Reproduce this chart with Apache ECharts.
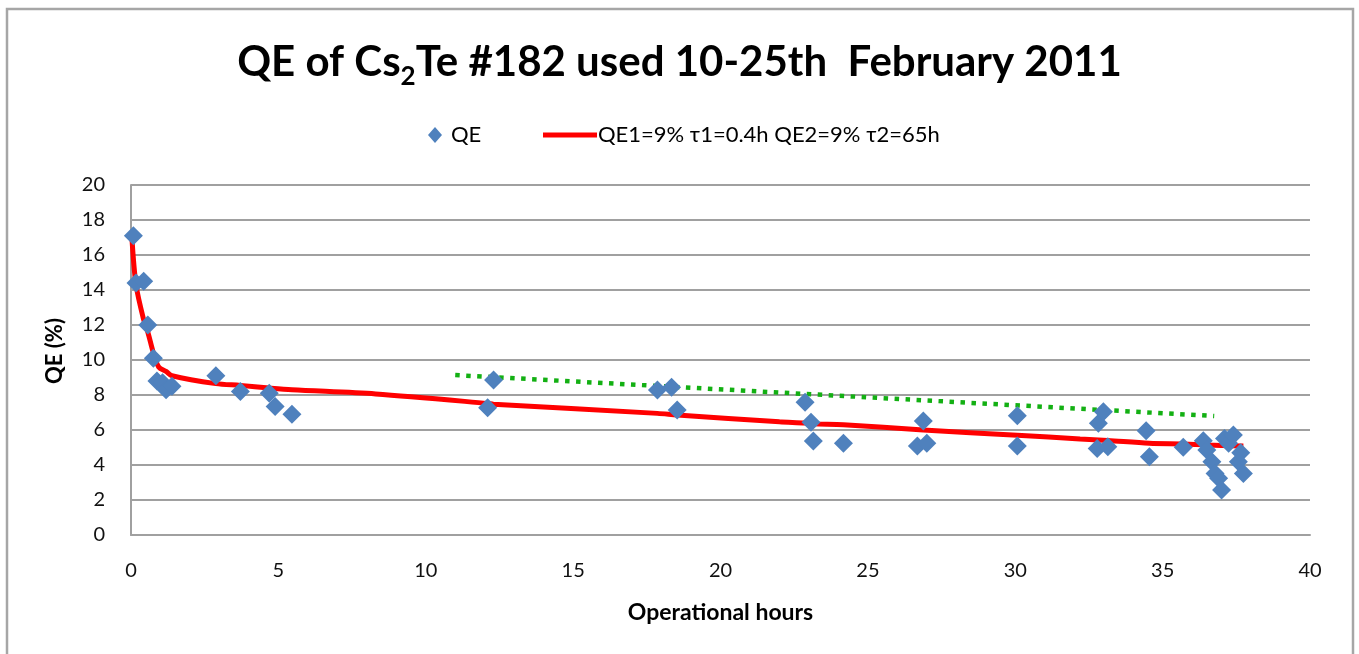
<!DOCTYPE html>
<html>
<head>
<meta charset="utf-8">
<script src="https://cdn.jsdelivr.net/npm/echarts@6/dist/echarts.min.js"></script>
<style>
  html, body { margin: 0; padding: 0; background: #fff; }
  #chart { width: 1359px; height: 654px; }
</style>
</head>
<body>
<div id="chart"></div>
<script>
// measured QE points (hours, %)
var qeHours = [0.08, 0.17, 0.43, 0.57, 0.76, 0.88, 1.07, 1.19, 1.39, 2.88, 3.71, 4.69, 4.89, 5.46,
    12.1, 12.3, 17.86, 18.34, 18.53, 22.87, 23.07, 23.15, 24.17, 26.68, 26.88, 27.0, 30.07, 30.07,
    32.78, 32.82, 32.99, 33.14, 34.44, 34.55, 35.7, 36.38, 36.5, 36.67, 36.78, 36.9, 37.0, 37.1,
    37.24, 37.4, 37.57, 37.65, 37.74];
var qeValues = [17.1, 14.4, 14.5, 12.0, 10.1, 8.8, 8.7, 8.3, 8.5, 9.1, 8.2, 8.1, 7.35, 6.9,
    7.27, 8.86, 8.29, 8.44, 7.14, 7.58, 6.44, 5.37, 5.24, 5.09, 6.51, 5.24, 6.82, 5.09,
    4.95, 6.38, 7.05, 5.05, 5.96, 4.47, 5.01, 5.39, 4.86, 4.19, 3.52, 3.24, 2.57, 5.52,
    5.24, 5.71, 4.19, 4.7, 3.52];

// fit curve as drawn
var fitHours = [0.03, 0.17, 0.43, 0.57, 0.76, 0.94, 1.19, 1.39, 2.88, 3.71, 4.69, 5.46, 8.3,
    12.1, 12.3, 17.86, 18.53, 22.0, 22.87, 23.15, 24.17, 26.88, 30.07, 32.2, 33.14, 34.55, 35.7, 36.5, 37.0, 37.74];
var fitValues = [17.0, 14.3, 12.3, 11.6, 10.4, 9.6, 9.35, 9.1, 8.65, 8.55, 8.4, 8.3, 8.06,
    7.52, 7.47, 6.95, 6.86, 6.47, 6.4, 6.35, 6.3, 6.0, 5.7, 5.49, 5.4, 5.24, 5.2, 5.15, 5.12, 5.09];

// dotted trend line endpoints
var trendHours = [11.0, 36.75];
var trendValues = [9.14, 6.8];

var xTicks = [0, 5, 10, 15, 20, 25, 30, 35, 40];
var yTicks = [0, 2, 4, 6, 8, 10, 12, 14, 16, 18, 20];

var fitName = 'QE1=9% \u03c41=0.4h QE2=9% \u03c42=65h';

function pairs(xs, ys) {
    return xs.map(function (x, i) { return [x, ys[i]]; });
}

var chart = echarts.init(document.getElementById('chart'));
var font = 'Lato, "Open Sans", sans-serif';

var option = {
    backgroundColor: '#fff',
    animation: false,
    textStyle: { fontFamily: font },
    graphic: [{
        type: 'rect',
        shape: { x: 7, y: 9, width: 1346, height: 700 },
        style: { fill: 'none', stroke: '#a6a6a6', lineWidth: 2.5 },
        silent: true
    }],
    title: {
        text: '{a|QE of Cs}{s|2}{a|Te #182 used 10-25th  February 2011}',
        left: 'center',
        top: 30,
        textStyle: {
            rich: {
                a: { fontFamily: font, fontWeight: 'bold', fontSize: 42, color: '#000', lineHeight: 48, verticalAlign: 'bottom' },
                s: { fontFamily: font, fontWeight: 'bold', fontSize: 26, color: '#000', lineHeight: 26, verticalAlign: 'bottom', padding: [0, 0, -7, 0] }
            }
        }
    },
    legend: [{
        data: ['QE'],
        left: 423,
        top: 119,
        icon: 'diamond',
        itemWidth: 14,
        itemHeight: 16,
        itemGap: 0,
        textStyle: { fontFamily: font, fontSize: 22, color: '#000', padding: [0, 0, 0, 4] }
    }, {
        data: [fitName],
        left: 538,
        top: 119,
        icon: 'rect',
        itemWidth: 54,
        itemHeight: 5,
        textStyle: { fontFamily: font, fontSize: 22, color: '#000', padding: [0, 0, 0, -4] }
    }],
    grid: { left: 131, right: 49, top: 185, bottom: 119 },
    xAxis: {
        type: 'value',
        min: xTicks[0],
        max: xTicks[xTicks.length - 1],
        interval: xTicks[1] - xTicks[0],
        name: 'Operational hours',
        nameLocation: 'middle',
        nameGap: 66,
        nameTextStyle: { fontFamily: font, fontWeight: 'bold', fontSize: 23, color: '#000' },
        axisLine: { lineStyle: { color: '#a0a0a0', width: 2 } },
        axisTick: { show: false },
        axisLabel: { margin: 26, fontSize: 20, color: '#111', fontFamily: font },
        splitLine: { show: false }
    },
    yAxis: {
        type: 'value',
        min: yTicks[0],
        max: yTicks[yTicks.length - 1],
        interval: yTicks[1] - yTicks[0],
        name: 'QE (%)',
        nameLocation: 'middle',
        nameGap: 65,
        nameRotate: 90,
        nameTextStyle: { fontFamily: font, fontWeight: 'bold', fontSize: 22, color: '#000', padding: [0, 0, 0, 18] },
        axisLine: { show: true, lineStyle: { color: '#a0a0a0', width: 2 } },
        axisTick: { show: false },
        axisLabel: { margin: 26, fontSize: 20, color: '#111', fontFamily: font },
        splitLine: { lineStyle: { color: '#a0a0a0', width: 2 } }
    },
    series: [{
        name: fitName,
        type: 'line',
        data: pairs(fitHours, fitValues),
        symbol: 'none',
        smooth: 0.3,
        lineStyle: { color: '#ff0000', width: 5 },
        itemStyle: { color: '#ff0000' },
        z: 2
    }, {
        name: 'trend',
        type: 'line',
        data: pairs(trendHours, trendValues),
        symbol: 'none',
        lineStyle: { color: '#13b013', width: 4.5, type: [4.5, 6.5] },
        z: 3
    }, {
        name: 'QE',
        type: 'scatter',
        data: pairs(qeHours, qeValues),
        symbol: 'diamond',
        symbolSize: [19, 19],
        itemStyle: { color: '#4f81bd', opacity: 1 },
        z: 4
    }]
};

chart.setOption(option);
</script>
</body>
</html>
